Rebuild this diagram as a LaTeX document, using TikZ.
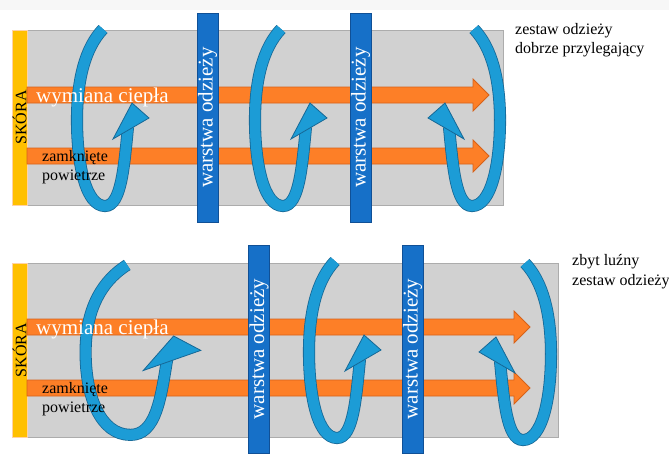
\documentclass[tikz,border=0pt]{standalone}
\usepackage{fontspec}
\setmainfont{Liberation Serif}
\definecolor{panelgray}{RGB}{209,209,209}
\definecolor{paneledge}{RGB}{172,172,172}
\definecolor{skinyellow}{RGB}{255,192,0}
\definecolor{heatorange}{RGB}{253,127,39}
\definecolor{heatedge}{RGB}{214,98,25}
\definecolor{loopblue}{RGB}{28,156,214}
\definecolor{loopedge}{RGB}{22,104,150}
\definecolor{layerblue}{RGB}{22,112,200}
\definecolor{layeredge}{RGB}{16,80,150}
\begin{document}
\begin{tikzpicture}[x=1pt, y=-1pt,
    panel/.style={fill=panelgray, draw=paneledge, line width=0.8pt},
    skin/.style={fill=skinyellow, draw=orange!35, line width=0.6pt, rotate=90, inner sep=0pt, font=\fontsize{16}{16}\selectfont},
    heat/.style={fill=heatorange, draw=heatedge, line width=0.8pt},
    airloop/.style={draw=loopedge, double=loopblue, double distance=10.5pt, line width=0.8pt},
    loophead/.style={fill=loopblue, draw=loopedge, line width=0.8pt},
    layer/.style={fill=layerblue, draw=layeredge, line width=0.8pt, rotate=90, text=white, inner sep=0pt, minimum height=21pt, font=\fontsize{21}{21}\selectfont},
    heatlabel/.style={text=white, font=\fontsize{21}{21}\selectfont, anchor=base west, inner sep=0pt},
    note/.style={font=\fontsize{16}{19}\selectfont, align=left, anchor=base west, inner sep=0pt}]
    \useasboundingbox (0,0) rectangle (669,453);
    \fill[black!3] (0,0) rectangle (669,10);

    % panels and skin
    \node[panel, minimum width=476, minimum height=175, inner sep=0pt] (panel1) at (265,117.5) {};
    \node[panel, minimum width=531, minimum height=174, inner sep=0pt] (panel2) at (292.5,350) {};
    \node[skin, minimum width=175, minimum height=15] (skin1) at (19.5,117.5) {SKÓRA};
    \node[skin, minimum width=174, minimum height=15] (skin2) at (19.5,350) {SKÓRA};

    % heat flow
    \foreach \c/\t in {95/489, 156/489, 327/530, 388/530}{
        \draw[heat] (27,{\c-8}) -- ({\t-16},{\c-8}) -- ({\t-16},{\c-16}) -- (\t,\c)
            -- ({\t-16},{\c+16}) -- ({\t-16},{\c+8}) -- (27,{\c+8}) -- cycle;
    }

    % trapped air loops
    \foreach \sx/\sy/\dx/\dy in {1/1/0/0, 1/1/178/0, -1/1/577/0, 1.6/0.96/-37.6/-237.1, 1/1/232/-232, -1/1/628/-234}{
        \begin{scope}[xshift=\dx, yshift=\dy, xscale=\sx, yscale=\sy]
            \draw[airloop] (103,29) .. controls (85,48) and (77,80) .. (77,120)
                .. controls (77,165) and (86,206) .. (105,206)
                .. controls (121,206) and (124,168) .. (128,127);
            \draw[loophead] (113,139) -- (132,103) -- (149,118) -- cycle;
        \end{scope}
    }

    \node[heatlabel] (heat1) at (36,102) {wymiana ciepła};
    \node[heatlabel] (heat2) at (36,334) {wymiana ciepła};
    \node[note] (air1) at (42,180) {zamknięte\\powietrze};
    \node[note] (air2) at (42,412) {zamknięte\\powietrze};

    % clothing layers
    \node[layer, minimum width=209] (layer1) at (207.5,117.5) {warstwa odzieży};
    \node[layer, minimum width=209] (layer2) at (360.5,117.5) {warstwa odzieży};
    \node[layer, minimum width=208] (layer3) at (259,349) {warstwa odzieży};
    \node[layer, minimum width=208] (layer4) at (412.5,349) {warstwa odzieży};

    \node[note] (fit) at (515,53) {zestaw odzieży\\dobrze przylegający};
    \node[note, font=\fontsize{16}{20}\selectfont] (loose) at (572,285) {zbyt luźny\\zestaw odzieży};
\end{tikzpicture}
\end{document}
